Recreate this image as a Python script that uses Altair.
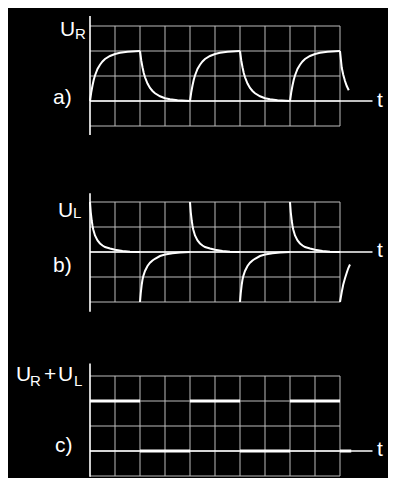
import altair as alt
import pandas as pd

# ---------------- data ----------------
grid_t = [0, 1, 2, 3, 4, 5, 6, 7, 8, 9, 10]
levels_a = [-1, 0, 1, 2, 3]
levels_b = [-2, -1, 0, 1, 2]
levels_c = [-1, 0, 1, 2, 3]

# a) U_R : charging / discharging curves (time offset, value)
ur_dt = [0, 0.05, 0.1, 0.15, 0.2, 0.3, 0.4, 0.5, 0.6, 0.8, 1.0, 1.2, 1.5, 2.0]
ur_rise_v = [0, 0.35, 0.62, 0.85, 1.02, 1.28, 1.45, 1.58, 1.68, 1.8, 1.88, 1.93, 1.97, 2.0]
ur_fall_v = [2, 1.62, 1.35, 1.12, 0.95, 0.7, 0.52, 0.4, 0.31, 0.19, 0.11, 0.07, 0.03, 0]
ur_rise_starts = [0, 4, 8]
ur_fall_starts = [2, 6]
ur_tail_dt = [0, 0.07, 0.13, 0.2, 0.27, 0.35]
ur_tail_v = [2, 1.33, 1.05, 0.8, 0.6, 0.43]
ur_tail_start = 10

# b) U_L : spikes
ul_dt = [0, 0.03, 0.07, 0.1, 0.13, 0.2, 0.3, 0.4, 0.5, 0.6, 0.8, 1.0, 1.3, 1.6, 2.0]
ul_pos_v = [2, 1.6, 1.25, 1.05, 0.9, 0.66, 0.46, 0.34, 0.26, 0.2, 0.14, 0.09, 0.04, 0.01, 0]
ul_neg_v = [-2, -1.65, -1.3, -1.1, -0.97, -0.76, -0.56, -0.43, -0.34, -0.27, -0.16, -0.1, -0.05, -0.02, 0]
ul_pos_starts = [0, 4, 8]
ul_neg_starts = [2, 6]
ul_tail_dt = [0, 0.07, 0.13, 0.2, 0.27, 0.33, 0.4]
ul_tail_v = [-2, -1.6, -1.3, -1.05, -0.83, -0.65, -0.5]
ul_tail_start = 10

# c) U_R + U_L : square wave
sum_start = [0, 2, 4, 6, 8, 10]
sum_end = [2, 4, 6, 8, 10, 10.45]
sum_v = [2, 0, 2, 0, 2, 0]

labels_a = ["U", "R", "a)", "t"]
labels_b = ["U", "L", "b)", "t"]
labels_c = ["U", "R", "+", "U", "L", "c)", "t"]

# ---------------- build tables ----------------
def curve_table(pieces):
    rows = []
    for seg, (start, dts, vals) in enumerate(pieces):
        for i, (d, v) in enumerate(zip(dts, vals)):
            rows.append({"t": start + d, "v": v, "seg": seg, "i": i})
    return pd.DataFrame(rows)

ur_df = curve_table(
    [(s, ur_dt, ur_rise_v) for s in ur_rise_starts]
    + [(s, ur_dt, ur_fall_v) for s in ur_fall_starts]
    + [(ur_tail_start, ur_tail_dt, ur_tail_v)]
)
ul_df = curve_table(
    [(s, ul_dt, ul_pos_v) for s in ul_pos_starts]
    + [(s, ul_dt, ul_neg_v) for s in ul_neg_starts]
    + [(ul_tail_start, ul_tail_dt, ul_tail_v)]
)
sum_df = pd.DataFrame({"t": sum_start, "t2": sum_end, "v": sum_v})

FONT = "Liberation Sans"
GRID = "#bcbcbc"
WHITE = "#ffffff"
W = 380
XDOM = [-3.28, 11.92]
ONE = pd.DataFrame({"k": [0]})
BIG = 21
SUB = 15


def panel(height, ydom, levels, ax_top, ax_bot, curve_layer_fn, labels, label_pos):
    xs = alt.Scale(domain=XDOM, nice=False, zero=False)
    ys = alt.Scale(domain=ydom, nice=False, zero=False)
    vgrid = alt.Chart(pd.DataFrame({"t": grid_t[1:]})).mark_rule(
        color=GRID, strokeWidth=1
    ).encode(
        x=alt.X("t:Q", scale=xs, axis=None),
        y=alt.YDatum(levels[0], type="quantitative", scale=ys, axis=None),
        y2=alt.Y2Datum(levels[-1]),
    )
    hgrid = alt.Chart(pd.DataFrame({"v": levels})).mark_rule(
        color=GRID, strokeWidth=1
    ).encode(
        y=alt.Y("v:Q", scale=ys, axis=None),
        x=alt.XDatum(grid_t[0], type="quantitative", scale=xs, axis=None),
        x2=alt.X2Datum(grid_t[-1]),
    )
    vaxis = alt.Chart(ONE).mark_rule(color=WHITE, strokeWidth=1.6).encode(
        x=alt.XDatum(0, type="quantitative", scale=xs, axis=None),
        y=alt.YDatum(ax_top, type="quantitative", scale=ys, axis=None),
        y2=alt.Y2Datum(ax_bot),
    )
    taxis = alt.Chart(ONE).mark_rule(color=WHITE, strokeWidth=1.6).encode(
        x=alt.XDatum(0, type="quantitative", scale=xs, axis=None),
        x2=alt.X2Datum(11.3),
        y=alt.YDatum(0, type="quantitative", scale=ys, axis=None),
    )
    curves = curve_layer_fn(xs, ys)
    texts = []
    for txt, (px, py, fs) in zip(labels, label_pos):
        texts.append(
            alt.Chart(ONE).mark_text(
                text=txt, align="left", baseline="alphabetic", font=FONT,
                fontSize=fs, color=WHITE,
            ).encode(x=alt.value(px), y=alt.value(py))
        )
    return alt.layer(vgrid, hgrid, vaxis, taxis, curves, *texts).properties(
        width=W, height=height
    )


def line_layer(df):
    def fn(xs, ys):
        return alt.Chart(df).mark_line(color=WHITE, strokeWidth=2).encode(
            x=alt.X("t:Q", scale=xs, axis=None),
            y=alt.Y("v:Q", scale=ys, axis=None),
            detail="seg:N",
            order="i:Q",
        )
    return fn


def sum_layer(xs, ys):
    return alt.Chart(sum_df).mark_rule(color=WHITE, strokeWidth=3).encode(
        x=alt.X("t:Q", scale=xs, axis=None),
        x2="t2:Q",
        y=alt.Y("v:Q", scale=ys, axis=None),
    )


pa = panel(
    160, [-2.68, 3.72], levels_a, 3.4, -1.36, line_layer(ur_df), labels_a,
    [(52, 28, BIG), (67, 31, SUB), (45, 96, BIG), (369, 99, BIG)],
)
pb = panel(
    162, [-3.12, 3.36], levels_b, 2.35, -2.39, line_layer(ul_df), labels_b,
    [(50, 49, BIG), (65, 50, SUB), (45, 104, BIG), (369, 89, BIG)],
)
pc = panel(
    147, [-1.04, 4.84], levels_c, 3.5, -1.03, sum_layer, labels_c,
    [(8, 51, BIG), (22, 56, SUB), (36, 51, BIG), (50, 51, BIG), (66, 56, SUB),
     (47, 122, BIG), (369, 126, BIG)],
)

chart = alt.vconcat(pa, pb, pc, spacing=0).properties(
    padding=0, background="#000000"
).configure_view(strokeWidth=0)

chart.save("out.html", embed_options={"renderer": "svg", "actions": False})
